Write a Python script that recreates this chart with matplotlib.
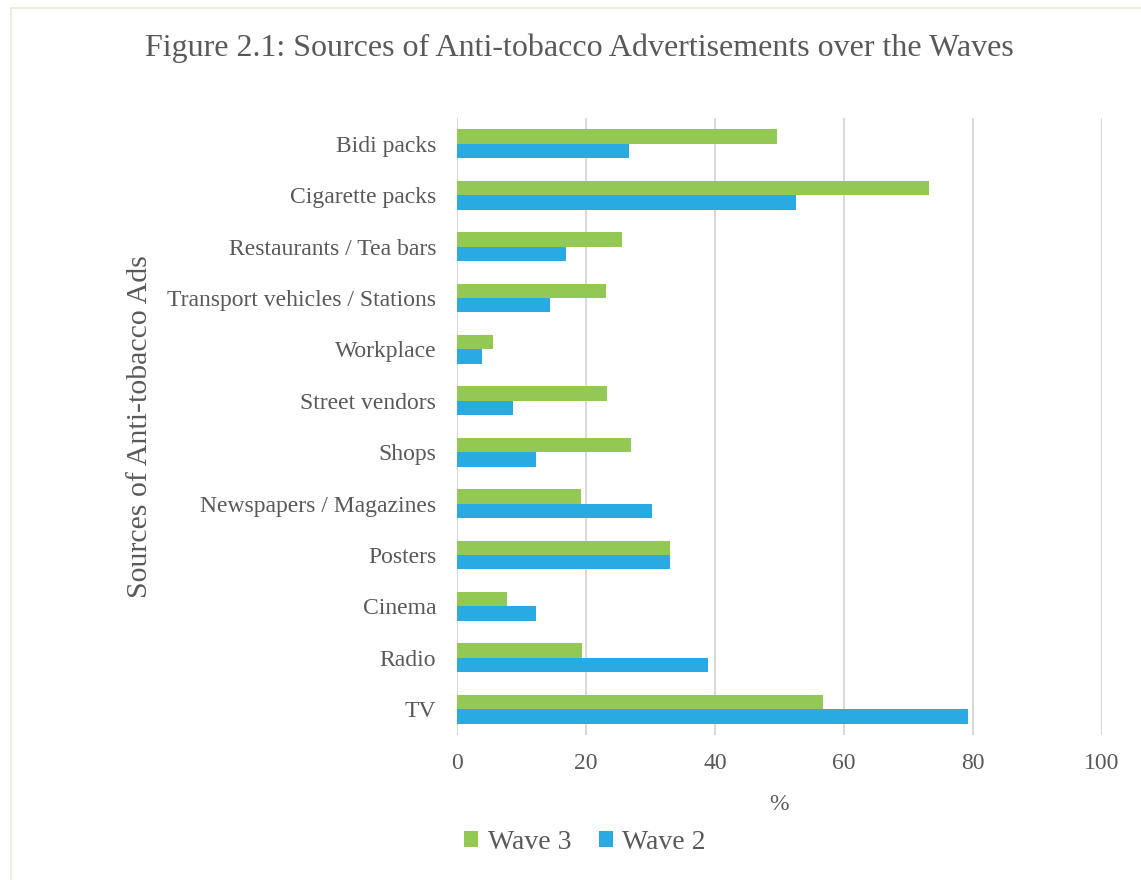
import matplotlib.pyplot as plt
import numpy as np
from matplotlib.lines import Line2D

plt.rcParams['font.family'] = ['Liberation Serif', 'DejaVu Serif']

sources = ['Bidi packs', 'Cigarette packs', 'Restaurants / Tea bars',
           'Transport vehicles / Stations', 'Workplace', 'Street vendors',
           'Shops', 'Newspapers / Magazines', 'Posters', 'Cinema', 'Radio', 'TV']
wave3 = [49.6, 73.2, 25.6, 23.1, 5.6, 23.2, 27.0, 19.3, 33.1, 7.8, 19.4, 56.8]
wave2 = [26.6, 52.6, 16.9, 14.4, 3.9, 8.7, 12.2, 30.2, 33.0, 12.3, 38.9, 79.2]
xticks = [0, 20, 40, 60, 80, 100]

green = '#92C853'
blue = '#29ABE2'
grey = '#595959'

fig = plt.figure(figsize=(11.41, 8.80), dpi=100)
ax = fig.add_axes([457 / 1141, 1 - 735 / 880, 645 / 1141, 617 / 880])

y = np.arange(len(sources))
h = 0.28
ax.barh(y - h / 2, wave3, height=h, color=green, label='Wave 3', zorder=3)
ax.barh(y + h / 2, wave2, height=h, color=blue, label='Wave 2', zorder=3)

ax.set_ylim(len(sources) - 0.5, -0.5)
ax.set_xlim(0, 100)
ax.set_yticks(y)
ax.set_yticklabels(sources, fontsize=17, color=grey)
ax.set_xticks(xticks)
ax.set_xticklabels([str(t) for t in xticks], fontsize=17, color=grey)
ax.tick_params(axis='y', length=0, pad=15)
ax.tick_params(axis='x', length=0, pad=13)
ax.grid(axis='x', color='#D9D9D9', linewidth=1.5, zorder=0)
for s in ax.spines.values():
    s.set_visible(False)

ax.set_xlabel('%', fontsize=17, color=grey, labelpad=14)
ax.set_ylabel('Sources of Anti-tobacco Ads', fontsize=21.5, color=grey, labelpad=10)

fig.text(579 / 1141, 1 - 48 / 880, 'Figure 2.1: Sources of Anti-tobacco Advertisements over the Waves',
         ha='center', va='center', fontsize=23, color=grey)

ax.legend(loc='center', bbox_to_anchor=(585 / 1141, 1 - 842 / 880),
          bbox_transform=fig.transFigure, ncol=2, frameon=False,
          fontsize=20, handlelength=0.5, handleheight=0.5, handletextpad=0.35,
          columnspacing=1.0, labelcolor=grey)

# thin page frame, only top and left edges show in the source
fig.add_artist(Line2D([10.5 / 1141, 1], [1 - 8 / 880, 1 - 8 / 880],
                      transform=fig.transFigure, color='#EEEBDF', linewidth=1.5))
fig.add_artist(Line2D([10.5 / 1141, 10.5 / 1141], [0, 1 - 8 / 880],
                      transform=fig.transFigure, color='#EEEBDF', linewidth=1.5))

fig.savefig('out.png', dpi=100)
